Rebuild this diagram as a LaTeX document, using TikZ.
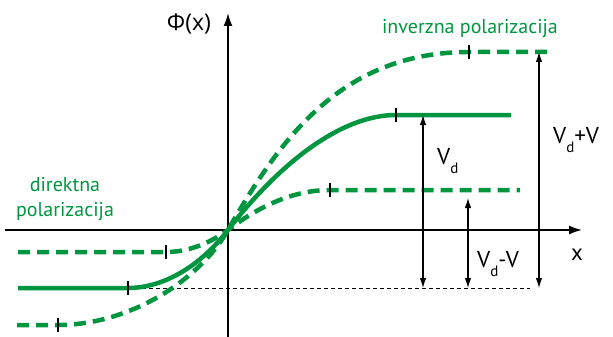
\documentclass[tikz,border=0pt]{standalone}
\usepackage{fontspec}
\setmainfont{PT Sans}
\newfontfamily\phifont{Open Sans}
\usetikzlibrary{arrows.meta}
\definecolor{dgreen}{RGB}{0,150,64}
\newcommand{\subd}{\raisebox{-0.42em}{\fontsize{15}{15}\selectfont d}}
\tikzset{
  axisline/.style={line width=1.6pt, -{Latex[length=13pt,width=9pt]}},
  curvesolid/.style={dgreen, line width=4.5pt},
  curvedashed/.style={dgreen, line width=4.5pt, dash pattern=on 12pt off 7pt},
  tickmark/.style={black, line width=1.4pt},
  dimarrow/.style={line width=1.1pt, {Latex[length=10pt,width=6.5pt]}-{Latex[length=10pt,width=6.5pt]}},
  greenlabel/.style={dgreen, font=\fontsize{20}{25}\selectfont, align=center, inner sep=0pt},
  blacklabel/.style={black, font=\fontsize{23}{26}\selectfont, inner sep=0pt}
}
\begin{document}
\begin{tikzpicture}[x=1pt,y=-1pt]
\useasboundingbox (0,0) rectangle (613,337);
% key points
\coordinate (O) at (228,230);
\coordinate (xs) at (5,230);
\coordinate (xe) at (582,230);
\coordinate (ys) at (228,337);
\coordinate (ye) at (228,13);
% solid
\coordinate (sA) at (18,288);
\coordinate (sL) at (128,288);
\coordinate (sR) at (396,115);
\coordinate (sB) at (511,115);
% inner dashed
\coordinate (iA) at (18,252);
\coordinate (iL) at (166,252);
\coordinate (iR) at (330,190);
\coordinate (iB) at (520,190);
% outer dashed
\coordinate (oA) at (17,325);
\coordinate (oL) at (58,325);
\coordinate (oR) at (469,52);
\coordinate (oB) at (552,52);
% axes
\draw[axisline] (xs) -- (xe);
\draw[axisline] (ys) -- (ye);
% reference thin dashed
\coordinate (dE) at (530,288);
\draw[line width=0.7pt, dash pattern=on 4pt off 3pt] (sL) -- (dE);
% curves
\draw[curvedashed] (oA) -- (oL) .. controls (128,325) and (198,282) .. (O)
   .. controls (278,143) and (339,52) .. (oR) -- (oB);
\draw[curvedashed] (iA) -- (iL) .. controls (186.7,252) and (207.3,244.7) .. (O)
   .. controls (262,204) and (296,190) .. (iR) -- (iB);
\draw[curvesolid] (sA) -- (sL) .. controls (161,288) and (198,269) .. (O)
   .. controls (278,165) and (340,115) .. (sR) -- (sB);
% ticks
\foreach \p in {sL,sR,iL,iR,oL,oR}
  \draw[tickmark] ([yshift=-7pt]\p) -- ([yshift=7pt]\p);
% dimension arrows
\coordinate (a1t) at (423,115);
\coordinate (a1b) at (423,288);
\coordinate (a2t) at (468,198);
\coordinate (a2b) at (468,288);
\coordinate (a3t) at (539,52);
\coordinate (a3b) at (539,288);
\draw[dimarrow] (a1t) -- (a1b);
\draw[dimarrow] (a2t) -- (a2b);
\draw[dimarrow] (a3t) -- (a3b);
% labels
\node[blacklabel] (phi) at (189,24) {\phifont\fontsize{23}{26}\selectfont Φ(x)};
\node[blacklabel] (xl) at (577,255) {x};
\node[blacklabel, anchor=base west] (vd) at (437,164) {V\subd};
\node[blacklabel, anchor=base west] (vdm) at (477,267) {V\subd-V};
\node[blacklabel, anchor=base west] (vdp) at (553,143) {V\subd+V};
\node[greenlabel] (inv) at (470,29) {inverzna polarizacija};
\node[greenlabel] (dir) at (65,199) {direktna\\polarizacija};
\end{tikzpicture}
\end{document}
